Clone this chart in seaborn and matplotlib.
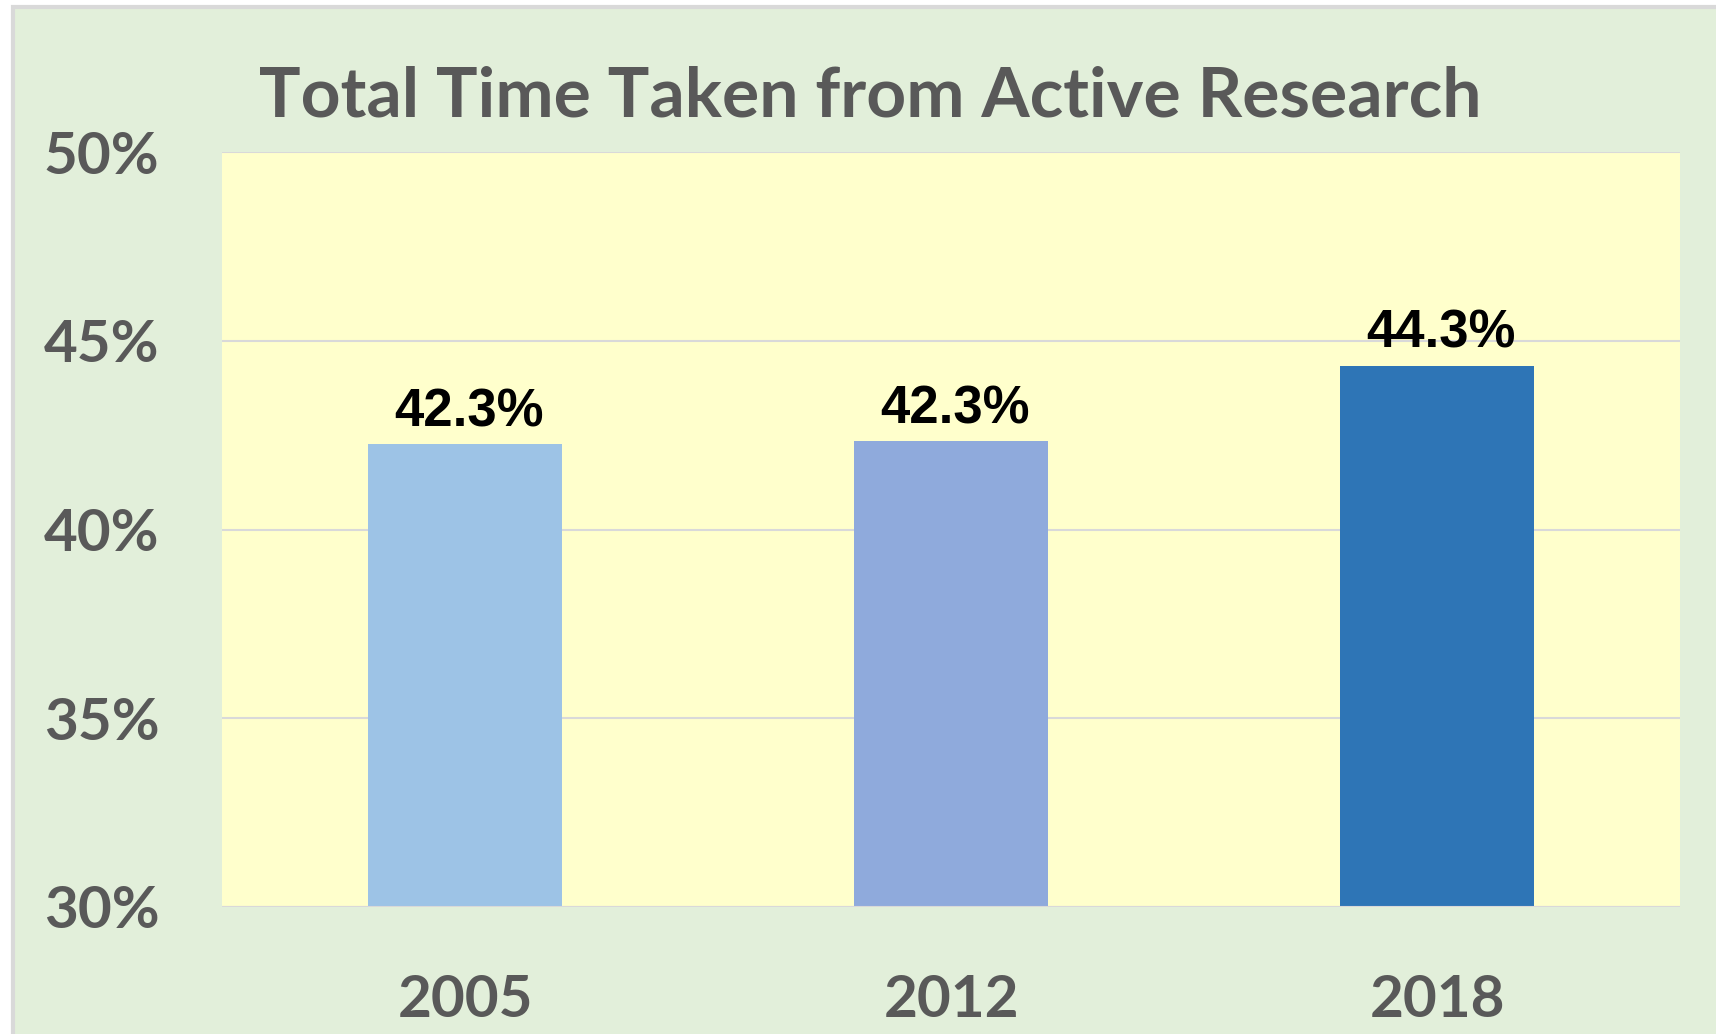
import matplotlib
matplotlib.use("Agg")
import matplotlib.pyplot as plt
from matplotlib.patches import Rectangle
import seaborn as sns
import pandas as pd

# Datos
years = ["2005", "2012", "2018"]
shares = [42.26, 42.34, 44.34]
bar_colors = ["#9DC3E6", "#8FAADC", "#2E75B6"]
y_ticks = [30, 35, 40, 45, 50]
title = "Total Time Taken from Active Research"


def main():
    df = pd.DataFrame({"year": years, "share": shares})

    W, H = 1716, 1034
    fig = plt.figure(figsize=(W / 100, H / 100), dpi=100, facecolor="white")

    # Fondo verde con borde gris (arriba e izquierda)
    fig.add_artist(Rectangle((13 / W, -0.05), 1.1, 1 - 7 / H + 0.05,
                             transform=fig.transFigure, facecolor="#E2EFDA",
                             edgecolor="#D9D9D9", linewidth=3, zorder=-10))

    ax = fig.add_axes([222 / W, 1 - 907 / H, (1680 - 222) / W, (907 - 152) / H])
    ax.set_facecolor("#FFFFCC")

    sns.barplot(data=df, x="year", y="share", hue="year", palette=bar_colors,
                order=years, width=0.4, saturation=1, legend=False, ax=ax, zorder=3)

    ax.set_ylim(30, 50)
    ax.set_xlim(-0.5, 2.5)
    ax.set_yticks(y_ticks)
    ax.set_yticklabels([f"{t}%" for t in y_ticks])
    ax.yaxis.grid(True, color="#D9D9D9", linewidth=1.5, zorder=0)
    ax.set_axisbelow(True)
    for s in ax.spines.values():
        s.set_visible(False)
    ax.axhline(30, color="#D9D9D9", linewidth=1.5, zorder=4)
    ax.set_xlabel("")
    ax.set_ylabel("")
    ax.tick_params(length=0)
    ax.tick_params(axis="y", pad=45)
    ax.tick_params(axis="x", pad=48)
    for lab in ax.get_yticklabels() + ax.get_xticklabels():
        lab.set_fontfamily("Lato")
        lab.set_fontweight("bold")
        lab.set_fontsize(42)
        lab.set_color("#595959")

    # Etiquetas de valor
    for i, v in enumerate(shares):
        ax.annotate(f"{v:.1f}%", (i, v), xytext=(3, 5), textcoords="offset points",
                    ha="center", va="bottom", fontsize=38, fontweight="bold",
                    fontfamily="Liberation Sans", color="black", zorder=5)

    fig.text(870 / W, 1 - 116 / H, title, ha="center", va="baseline",
             fontsize=50, fontweight="bold", fontfamily="Lato", color="#595959")

    fig.savefig("out.png", dpi=100, facecolor=fig.get_facecolor())


if __name__ == "__main__":
    main()
